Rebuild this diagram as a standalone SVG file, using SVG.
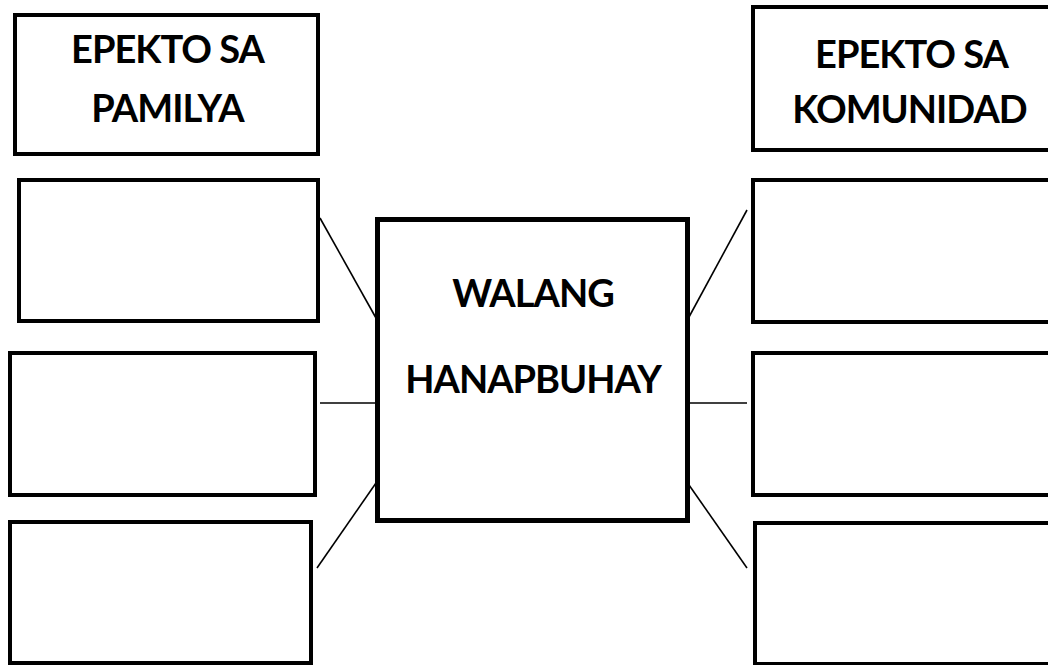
<svg xmlns="http://www.w3.org/2000/svg" width="1048" height="665" viewBox="0 0 1048 665">
<style>
.box{fill:#fff;stroke:#000;stroke-width:4}
.main{fill:#fff;stroke:#000;stroke-width:5}
.lbl{font-family:Lato,"Open Sans","Liberation Sans",sans-serif;font-weight:bold;font-size:38px;letter-spacing:-1px;fill:#000;text-anchor:middle}
.conn line{stroke:#000;stroke-width:1.6}
</style>
<rect width="1048" height="665" fill="#fff"/>
<g class="conn" id="connectors">
<line x1="320" y1="218" x2="376" y2="318"/>
<line x1="320" y1="403" x2="376" y2="403"/>
<line x1="376" y1="483" x2="317" y2="568"/>
<line x1="689" y1="317" x2="747" y2="210"/>
<line x1="689" y1="403" x2="747" y2="403"/>
<line x1="689" y1="485" x2="747" y2="568"/>
</g>
<g id="header-pamilya">
<rect class="box" x="15" y="15" width="303" height="139"/>
<text class="lbl" x="167.5" y="63">EPEKTO SA</text>
<text class="lbl" x="167.5" y="122">PAMILYA</text>
</g>
<g id="header-komunidad">
<rect class="box" x="753" y="7" width="310" height="143"/>
<text class="lbl" x="911.5" y="68">EPEKTO SA</text>
<text class="lbl" x="909.5" y="123">KOMUNIDAD</text>
</g>
<g id="center">
<rect class="main" x="377.5" y="219.5" width="310" height="301"/>
<text class="lbl" x="533" y="307">WALANG</text>
<text class="lbl" x="533" y="393">HANAPBUHAY</text>
</g>
<g id="left-1"><rect class="box" x="19" y="180" width="299" height="141"/></g>
<g id="left-2"><rect class="box" x="10" y="353" width="305" height="142"/></g>
<g id="left-3"><rect class="box" x="10" y="522" width="301" height="141"/></g>
<g id="right-1"><rect class="box" x="753" y="180" width="310" height="142"/></g>
<g id="right-2"><rect class="box" x="753" y="353" width="310" height="142"/></g>
<g id="right-3"><rect class="box" x="755" y="523" width="310" height="141"/></g>
</svg>
